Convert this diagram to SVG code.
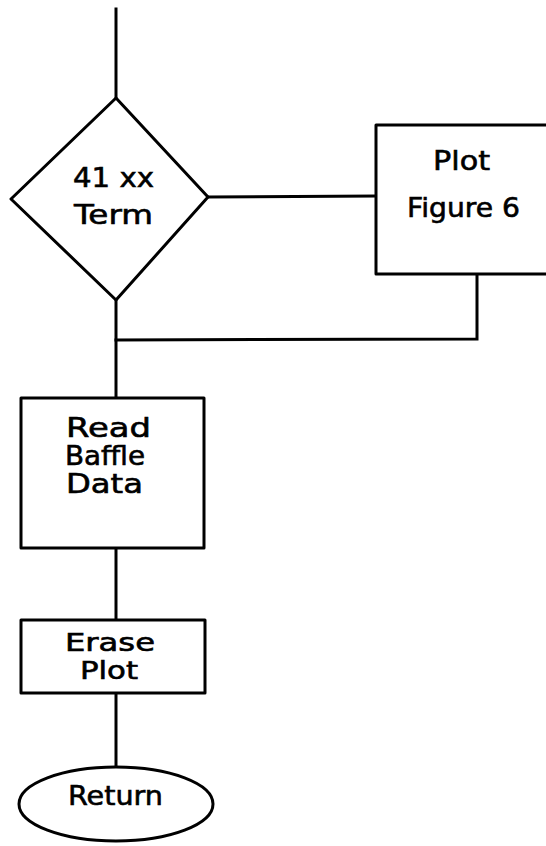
<svg xmlns="http://www.w3.org/2000/svg" width="546" height="846" viewBox="0 0 546 846">
<style>
.s{fill:#fff;stroke:#000;stroke-width:3;stroke-linejoin:round}
.c{fill:none;stroke:#000;stroke-width:3;stroke-linecap:square}
text{font-family:"DejaVu Sans","Liberation Sans",sans-serif;font-size:27px;fill:#000;stroke:#000;stroke-width:0.6}
.sm{font-size:24px}
</style>
<rect width="546" height="846" fill="#fff"/>
<g id="connectors">
<line class="c" x1="116" y1="9" x2="116" y2="98"/>
<line class="c" x1="208" y1="197" x2="376" y2="196"/>
<polyline class="c" points="477,274 477,339 116,340"/>
<line class="c" x1="116" y1="300" x2="116" y2="398"/>
<line class="c" x1="116" y1="548" x2="116" y2="620"/>
<line class="c" x1="116" y1="693" x2="116" y2="768"/>
</g>
<g id="decision">
<polygon class="s" points="116,98 208,197 116,300 11,199"/>
<text x="73" y="187" textLength="81" lengthAdjust="spacingAndGlyphs">41 xx</text>
<text x="74" y="224" textLength="79" lengthAdjust="spacingAndGlyphs">Term</text>
</g>
<g id="plot">
<rect class="s" x="376" y="125" width="180" height="149"/>
<text x="433" y="170" textLength="57" lengthAdjust="spacingAndGlyphs">Plot</text>
<text x="407" y="217" textLength="113" lengthAdjust="spacingAndGlyphs">Figure 6</text>
</g>
<g id="read">
<rect class="s" x="21" y="398" width="183" height="150"/>
<text x="66" y="437" textLength="85" lengthAdjust="spacingAndGlyphs">Read</text>
<text x="65" y="465" textLength="80" lengthAdjust="spacingAndGlyphs">Baffle</text>
<text x="66" y="493" textLength="77" lengthAdjust="spacingAndGlyphs">Data</text>
</g>
<g id="erase">
<rect class="s" x="21" y="620" width="184" height="73"/>
<text class="sm" x="65" y="651" textLength="90" lengthAdjust="spacingAndGlyphs">Erase</text>
<text class="sm" x="80" y="679" textLength="58" lengthAdjust="spacingAndGlyphs">Plot</text>
</g>
<g id="return">
<ellipse class="s" cx="116" cy="804" rx="97" ry="37"/>
<text x="68" y="805" textLength="95" lengthAdjust="spacingAndGlyphs">Return</text>
</g>
</svg>
